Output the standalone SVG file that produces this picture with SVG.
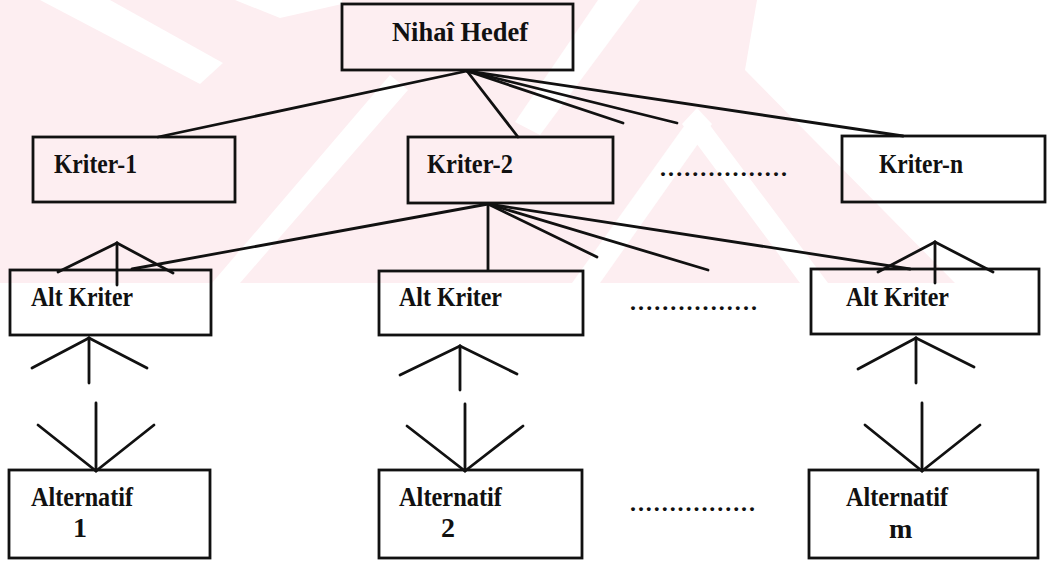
<svg xmlns="http://www.w3.org/2000/svg" width="1052" height="562" viewBox="0 0 1052 562">
<style>
.wm{fill:#fdeef1}
.wh{fill:#ffffff}
.box{fill:none;stroke:#111;stroke-width:2.8}
.lbl{font-family:"Liberation Serif","Times New Roman",serif;font-weight:bold;font-size:28px;fill:#111}
.dots{font-family:"Liberation Serif","Times New Roman",serif;font-weight:bold;font-size:24px;fill:#111}
#connectors line{stroke:#111;stroke-width:2.8;stroke-linecap:round}
</style>
<rect width="1052" height="562" fill="#ffffff"/>
<g id="watermark">
<rect class="wm" x="0" y="0" width="955" height="283"/>
<polygon class="wh" points="40,0 110,0 223,63 200,84"/>
<polygon class="wh" points="235,0 342,0 342,4 280,18"/>
<polygon class="wh" points="757,0 1052,0 1052,283 955,283 745,70"/>
<polygon class="wh" points="697,108 712,124 600,283 572,283"/>
<polygon class="wh" points="697,108 682,124 800,283 828,283"/>
<polygon class="wh" points="390,75 408,90 240,283 212,283"/>
<polygon class="wh" points="598,0 640,0 540,135 515,122"/>
</g>
<g id="connectors">
<line x1="467" y1="71" x2="158" y2="137"/>
<line x1="467" y1="71" x2="518" y2="137"/>
<line x1="467" y1="71" x2="623" y2="123"/>
<line x1="467" y1="71" x2="677" y2="123"/>
<line x1="467" y1="71" x2="903" y2="136"/>
<line x1="488" y1="204" x2="132" y2="269"/>
<line x1="488" y1="204" x2="488" y2="270"/>
<line x1="488" y1="204" x2="597" y2="257"/>
<line x1="488" y1="204" x2="708" y2="270"/>
<line x1="488" y1="204" x2="910" y2="269"/>
<line x1="117" y1="243" x2="58" y2="272"/>
<line x1="117" y1="243" x2="117" y2="285"/>
<line x1="117" y1="243" x2="173" y2="273"/>
<line x1="935" y1="242" x2="878" y2="272"/>
<line x1="935" y1="242" x2="935" y2="283"/>
<line x1="935" y1="242" x2="993" y2="272"/>
<line x1="89" y1="338" x2="32" y2="368"/>
<line x1="89" y1="338" x2="89" y2="383"/>
<line x1="89" y1="338" x2="147" y2="368"/>
<line x1="460" y1="346" x2="400" y2="375"/>
<line x1="460" y1="346" x2="460" y2="390"/>
<line x1="460" y1="346" x2="517" y2="374"/>
<line x1="916" y1="338" x2="858" y2="369"/>
<line x1="916" y1="338" x2="916" y2="383"/>
<line x1="916" y1="338" x2="974" y2="367"/>
<line x1="96" y1="471" x2="96" y2="403"/>
<line x1="96" y1="471" x2="38" y2="425"/>
<line x1="96" y1="471" x2="154" y2="425"/>
<line x1="465" y1="471" x2="465" y2="404"/>
<line x1="465" y1="471" x2="407" y2="426"/>
<line x1="465" y1="471" x2="523" y2="426"/>
<line x1="922" y1="471" x2="922" y2="403"/>
<line x1="922" y1="471" x2="865" y2="425"/>
<line x1="922" y1="471" x2="980" y2="425"/>
</g>
<g id="nihai-hedef">
<rect class="box" x="342" y="4" width="231" height="66"/>
<text class="lbl" x="392" y="41" textLength="136" lengthAdjust="spacingAndGlyphs">Nihaî Hedef</text>
</g>
<g id="kriter-1">
<rect class="box" x="33" y="137" width="202" height="65"/>
<text class="lbl" x="54" y="173" textLength="83" lengthAdjust="spacingAndGlyphs">Kriter-1</text>
</g>
<g id="kriter-2">
<rect class="box" x="408" y="137" width="205" height="66"/>
<text class="lbl" x="427" y="173" textLength="86" lengthAdjust="spacingAndGlyphs">Kriter-2</text>
</g>
<g id="kriter-n">
<rect class="box" x="842" y="136" width="203" height="66"/>
<text class="lbl" x="879" y="173" textLength="84" lengthAdjust="spacingAndGlyphs">Kriter-n</text>
</g>
<g id="alt-kriter-1">
<rect class="box" x="10" y="270" width="201" height="65"/>
<text class="lbl" x="31" y="306" textLength="102" lengthAdjust="spacingAndGlyphs">Alt Kriter</text>
</g>
<g id="alt-kriter-2">
<rect class="box" x="379" y="271" width="204" height="64"/>
<text class="lbl" x="399" y="306" textLength="103" lengthAdjust="spacingAndGlyphs">Alt Kriter</text>
</g>
<g id="alt-kriter-n">
<rect class="box" x="811" y="269" width="228" height="65"/>
<text class="lbl" x="846" y="306" textLength="103" lengthAdjust="spacingAndGlyphs">Alt Kriter</text>
</g>
<g id="alternatif-1">
<rect class="box" x="9" y="470" width="201" height="88"/>
<text class="lbl" x="31" y="506" textLength="102" lengthAdjust="spacingAndGlyphs">Alternatif</text>
<text class="lbl" x="73" y="537">1</text>
</g>
<g id="alternatif-2">
<rect class="box" x="379" y="470" width="203" height="88"/>
<text class="lbl" x="399" y="506" textLength="103" lengthAdjust="spacingAndGlyphs">Alternatif</text>
<text class="lbl" x="441" y="537">2</text>
</g>
<g id="alternatif-m">
<rect class="box" x="809" y="470" width="229" height="88"/>
<text class="lbl" x="846" y="506" textLength="102" lengthAdjust="spacingAndGlyphs">Alternatif</text>
<text class="lbl" x="889" y="538">m</text>
</g>
<g id="ellipses">
<text class="dots" x="660" y="176" textLength="127" lengthAdjust="spacing">................</text>
<text class="dots" x="630" y="310" textLength="127" lengthAdjust="spacing">................</text>
<text class="dots" x="630" y="511" textLength="125" lengthAdjust="spacing">................</text>
</g>
</svg>
